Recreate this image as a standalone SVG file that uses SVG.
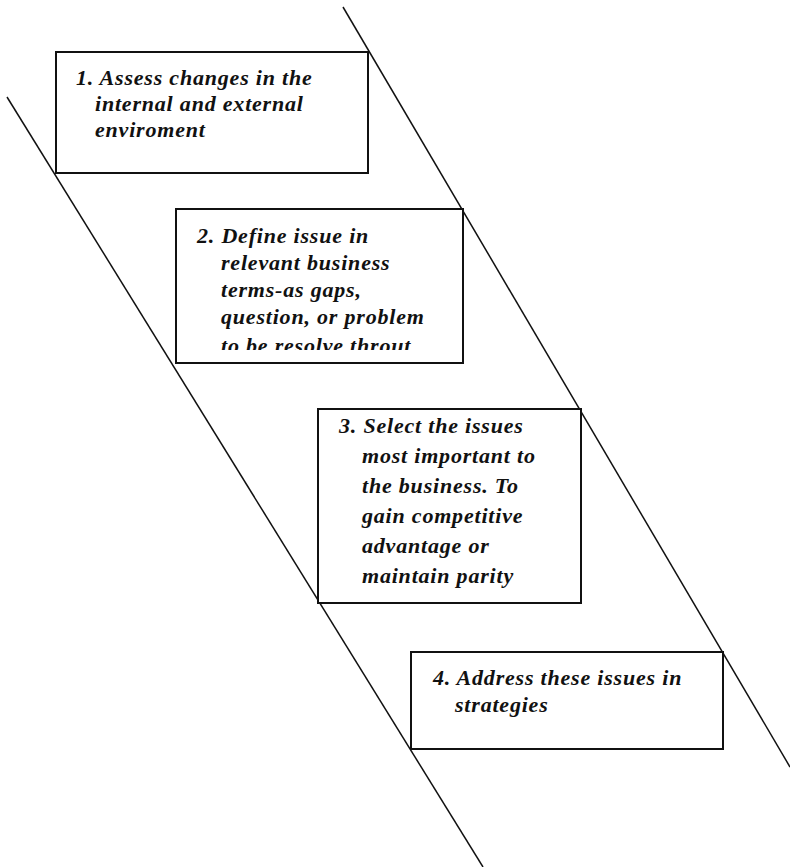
<svg xmlns="http://www.w3.org/2000/svg" width="790" height="867" viewBox="0 0 790 867">
<style>
.bg{fill:#fff}
.conn{stroke:#111;stroke-width:1.5;fill:none}
.box{fill:#fff;stroke:#111;stroke-width:2}
.t{font-family:"Liberation Serif","Times New Roman",serif;font-weight:bold;font-style:italic;font-size:22px;letter-spacing:0.8px;fill:#111}
</style>
<defs>
<clipPath id="clip2"><rect x="176" y="209" width="287" height="141"/></clipPath>
</defs>
<rect class="bg" x="0" y="0" width="790" height="867"/>
<g id="connectors">
<line class="conn" x1="7" y1="97" x2="483" y2="867"/>
<line class="conn" x1="343" y1="7" x2="790" y2="767"/>
</g>
<g id="node1">
<rect class="box" x="56" y="52" width="312" height="121"/>
<text class="t" x="76" y="85">1. Assess changes in the</text>
<text class="t" x="95" y="111">internal and external</text>
<text class="t" x="95" y="137">enviroment</text>
</g>
<g id="node2">
<rect class="box" x="176" y="209" width="287" height="154"/>
<text class="t" x="197" y="243">2. Define issue in</text>
<text class="t" x="221" y="270">relevant business</text>
<text class="t" x="221" y="297">terms-as gaps,</text>
<text class="t" x="221" y="324">question, or problem</text>
<text class="t" x="221" y="353" clip-path="url(#clip2)">to be resolve throut</text>
</g>
<g id="node3">
<rect class="box" x="318" y="409" width="263" height="194"/>
<text class="t" x="339" y="433">3. Select the issues</text>
<text class="t" x="362" y="463">most important to</text>
<text class="t" x="362" y="493">the business. To</text>
<text class="t" x="362" y="523">gain competitive</text>
<text class="t" x="362" y="553">advantage or</text>
<text class="t" x="362" y="583">maintain parity</text>
</g>
<g id="node4">
<rect class="box" x="411" y="652" width="312" height="97"/>
<text class="t" x="433" y="685">4. Address these issues in</text>
<text class="t" x="455" y="712">strategies</text>
</g>
</svg>
